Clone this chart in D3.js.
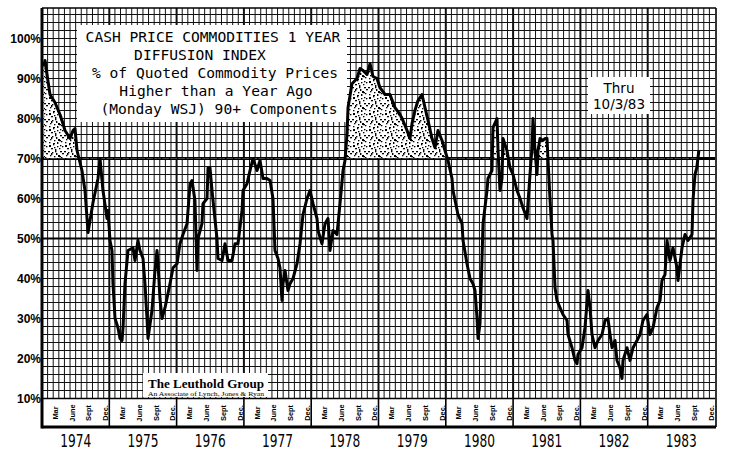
<!DOCTYPE html>
<html><head><meta charset="utf-8">
<script src="https://cdn.jsdelivr.net/npm/d3@7"></script>
<style>body{margin:0;background:#fff} svg{display:block}</style>
</head><body><svg id="c" width="730" height="458"></svg>
<script>
// ---- data (weekly diffusion index) ----
const weeks = [
1974.03,1974.045,1974.074,1974.119,1974.193,1974.267,1974.297,1974.342,1974.416,1974.461,1974.49,1974.52,1974.594,1974.639,1974.684,1974.758,1974.832,1974.862,1974.906,1974.966,1974.981,
1975.01,1975.04,1975.055,1975.085,1975.129,1975.159,1975.189,1975.204,1975.233,1975.278,1975.352,1975.382,1975.426,1975.456,1975.501,1975.53,1975.56,1975.575,1975.634,1975.679,1975.709,1975.724,1975.753,1975.783,1975.828,1975.902,1975.947,
1976.006,1976.05,1976.095,1976.155,1976.2,1976.229,1976.273,1976.303,1976.318,1976.377,1976.392,1976.452,1976.467,1976.496,1976.526,1976.6,1976.615,1976.675,1976.719,1976.764,1976.823,1976.868,1976.912,1976.972,1976.987,
1977.046,1977.091,1977.135,1977.195,1977.239,1977.284,1977.343,1977.388,1977.432,1977.462,1977.507,1977.536,1977.566,1977.581,1977.611,1977.655,1977.685,1977.73,1977.789,1977.834,1977.878,1977.938,1977.982,
1978.027,1978.086,1978.101,1978.16,1978.205,1978.25,1978.279,1978.324,1978.383,1978.428,1978.473,1978.502,1978.532,1978.547,1978.606,1978.681,1978.725,1978.77,1978.829,1978.874,1978.918,1978.978,
1979.022,1979.097,1979.171,1979.245,1979.32,1979.364,1979.424,1979.468,1979.498,1979.542,1979.587,1979.646,1979.691,1979.736,1979.795,1979.84,1979.884,1979.944,1979.988,
1980.033,1980.092,1980.107,1980.181,1980.241,1980.256,1980.315,1980.36,1980.404,1980.434,1980.464,1980.479,1980.508,1980.538,1980.553,1980.612,1980.627,1980.686,1980.701,1980.761,1980.776,1980.805,1980.835,1980.85,1980.909,1980.954,1980.999,
1981.058,1981.103,1981.147,1981.207,1981.221,1981.251,1981.281,1981.296,1981.325,1981.355,1981.37,1981.4,1981.444,1981.474,1981.504,1981.519,1981.548,1981.578,1981.593,1981.623,1981.652,1981.697,1981.741,1981.801,1981.816,1981.875,1981.92,1981.95,1981.964,
1982.024,1982.068,1982.113,1982.143,1982.172,1982.217,1982.262,1982.321,1982.366,1982.41,1982.44,1982.47,1982.514,1982.544,1982.588,1982.618,1982.633,1982.692,1982.737,1982.782,1982.841,1982.886,1982.93,1982.989,
1983.034,1983.079,1983.138,1983.183,1983.212,1983.257,1983.287,1983.331,1983.376,1983.435,1983.45,1983.51,1983.554,1983.599,1983.658,1983.673,1983.703,1983.73,1983.76
];
const index = [
93,94.5,91,86,84,81,79.5,77,75,77,77.5,72,67,62,51.5,59,65,70,62,55,57,
49.5,47,38.7,30,27.7,25,24.5,27.7,38.7,47,47.7,44.5,49.5,47,45,38.7,30,25,32,42,47,43.7,35,30,32.7,38.7,42.7,
43.7,48.7,51,53.7,63.7,64.5,59.5,42,50,53.7,58.7,60,67.7,67.7,62,50,45,44.5,48.7,44.5,44.5,48.7,48.7,57,62,
63.7,67,70,67,69.5,65,65,64.5,60,47,45,42.7,34.5,38.7,42,37,38.7,40,43.7,48.7,56,60,62,
58.7,55,52,48.7,53.7,55,47,52,51,58.7,67,69.5,76,82.7,88.7,90,92.5,92,91,93.7,90.5,90,
87.7,86,86,82.7,81,79.5,77,75,78.7,82,84.5,86,82.7,79.5,75,72.7,77,74.5,72,
69.5,65,62,56,53.7,49.5,43.7,40,38.7,37,30,25,28.7,45,53.7,62,65,67,77.7,80,72,62,65,75,72,67.7,66,
62,60,57.7,55,58.7,66,72.7,80,72,66,72,75,74.5,75,75,69.5,60,51,49.5,37.7,34.5,32.7,31,29.5,26,22.7,19.5,18.7,21,
22.7,27.7,37,32.7,26,22.7,24.5,26,29.5,30,26,22.7,24.5,19.5,17.7,15,19.5,22.7,19.5,22.7,24.5,26,29.5,31,
26,27.7,32.7,34.5,39.5,41,49.5,44.5,47.7,42.7,39.5,47.7,51,49.5,51,59.5,66,67.7,72
];
const yTicks = [10,20,30,40,50,60,70,80,90,100];
const years = [1974,1975,1976,1977,1978,1979,1980,1981,1982,1983];
const monthLabels = ["Mar","June","Sept","Dec."];
const monthIdx = [2,5,8,11];
const titleLines = ["CASH PRICE COMMODITIES 1 YEAR","DIFFUSION INDEX","% of Quoted Commodity Prices","Higher than a Year Ago","(Monday WSJ) 90+ Components"];
const thruLines = ["Thru","10/3/83"];
const logoLines = ["The Leuthold Group","An Associate of Lynch, Jones & Ryan"];
const refLevel = 70;

// ---- layout ----
const L = 42, R = 715, T = 8, BAND_B = 427;
const x = d3.scaleLinear().domain([1974, 1984]).range([L, R]);
const y = d3.scaleLinear().domain([10, 100]).range([398.5, 38.5]);
const svg = d3.select("#c");

// stipple pattern (speckle texture tile)
const speck = [[1,1],[5,0],[9,2],[3,4],[7,5],[11,4],[0,7],[4,8],[8,9],[12,7],[2,11],[6,12],[10,11],[13,13],[1,14],[5,15],[9,14],[12,1],[14,9],[6,3],[3,9],[11,12],[7,7],[14,2]];
const defs = svg.append("defs");
const pat = defs.append("pattern").attr("id","stip").attr("patternUnits","userSpaceOnUse").attr("width",16).attr("height",16);
pat.append("rect").attr("width",16).attr("height",16).attr("fill","#fff");
speck.forEach((p,i)=>pat.append("rect").attr("x",p[0]).attr("y",p[1])
  .attr("width", i%3===0?2:1.4).attr("height", i%4===0?2:1.3).attr("fill","#000"));
defs.append("clipPath").attr("id","above").append("rect")
  .attr("x",L).attr("y",T).attr("width",R-L).attr("height",y(refLevel)-T);

// grid
const g = svg.append("g");
g.selectAll(".hg").data(d3.range(10, 107, 2)).join("line")
  .attr("x1",L).attr("x2",R).attr("y1",d=>y(d)).attr("y2",d=>y(d))
  .attr("stroke","#111").attr("stroke-width",1);
g.selectAll(".vg").data(d3.range(0, 120)).join("line")
  .attr("x1",d=>x(1974+d/12)).attr("x2",d=>x(1974+d/12))
  .attr("y1",T).attr("y2",y(10))
  .attr("stroke","#111").attr("stroke-width",d=>d%12===0?2:1);
g.selectAll(".ys").data(d3.range(1975,1984)).join("line")
  .attr("x1",d=>x(d)).attr("x2",d=>x(d)).attr("y1",y(10)).attr("y2",BAND_B)
  .attr("stroke","#000").attr("stroke-width",1.6);
g.append("line").attr("x1",L).attr("x2",R).attr("y1",y(70)).attr("y2",y(70)).attr("stroke","#000").attr("stroke-width",3.2);
g.append("line").attr("x1",L).attr("x2",R).attr("y1",y(50)).attr("y2",y(50)).attr("stroke","#000").attr("stroke-width",2);
g.append("line").attr("x1",L).attr("x2",R).attr("y1",y(10)).attr("y2",y(10)).attr("stroke","#000").attr("stroke-width",1.6);

// boxes
const tb = svg.append("g");
tb.append("rect").attr("x",77).attr("y",25).attr("width",270).attr("height",97).attr("fill","#fff");
const tOff = [213,200,215,216,219];
tb.selectAll("text").data(titleLines).join("text")
  .attr("x",(d,i)=>tOff[i]).attr("y",(d,i)=>42+i*18.1)
  .attr("text-anchor","middle").attr("font-family","DejaVu Sans Mono").attr("font-size",14.6).attr("fill","#000")
  .text(d=>d);

const th = svg.append("g");
th.append("rect").attr("x",588).attr("y",77).attr("width",62).attr("height",37).attr("fill","#fff");
th.selectAll("text").data(thruLines).join("text")
  .attr("x",619).attr("y",(d,i)=>93+i*16).attr("text-anchor","middle")
  .attr("font-family","DejaVu Sans").attr("font-size",13.5).attr("fill","#000").text(d=>d);

const lg = svg.append("g");
lg.append("rect").attr("x",143).attr("y",373).attr("width",125).attr("height",24).attr("fill","#fff");
lg.append("text").attr("x",148).attr("y",388).attr("font-family","Liberation Serif").attr("font-weight","bold")
  .attr("font-size",13.5).attr("textLength",116).attr("lengthAdjust","spacingAndGlyphs").text(logoLines[0]);
lg.append("text").attr("x",148).attr("y",395.5).attr("font-family","Liberation Serif")
  .attr("font-size",5.8).attr("textLength",116).attr("lengthAdjust","spacingAndGlyphs").text(logoLines[1]);

// data
const pts = weeks.map((w,i)=>[w,index[i]]);
svg.append("path").datum(pts)
  .attr("clip-path","url(#above)")
  .attr("d", d3.area().x(d=>x(d[0])).y0(y(refLevel)).y1(d=>y(d[1])))
  .attr("fill","url(#stip)");
svg.append("path").datum(pts)
  .attr("d", d3.line().x(d=>x(d[0])).y(d=>y(d[1])))
  .attr("fill","none").attr("stroke","#000").attr("stroke-width",3).attr("stroke-linejoin","round");

// frame
svg.append("line").attr("x1",L).attr("x2",L).attr("y1",T).attr("y2",BAND_B+1.5).attr("stroke","#000").attr("stroke-width",3);
svg.append("line").attr("x1",L).attr("x2",R+1).attr("y1",T).attr("y2",T).attr("stroke","#000").attr("stroke-width",1.6);
svg.append("line").attr("x1",R+1).attr("x2",R+1).attr("y1",T).attr("y2",BAND_B).attr("stroke","#000").attr("stroke-width",1.6);
svg.append("line").attr("x1",L).attr("x2",R+1).attr("y1",BAND_B).attr("y2",BAND_B).attr("stroke","#000").attr("stroke-width",3);

// y labels
svg.selectAll(".yl").data(yTicks).join("text")
  .attr("x",41).attr("y",d=>y(d)).attr("dy","0.36em").attr("text-anchor","end")
  .attr("font-family","Liberation Sans").attr("font-weight","bold").attr("font-size",12)
  .attr("fill","#000").text(d=>d+"%");

// month labels
const ml = [];
years.forEach(yr=>monthIdx.forEach((m,j)=>ml.push({t:yr+(m+0.35)/12, s:monthLabels[j]})));
svg.selectAll(".ml").data(ml).join("text")
  .attr("transform",d=>`translate(${x(d.t)+2.5},413) rotate(-90)`)
  .attr("text-anchor","middle").attr("font-family","Liberation Sans").attr("font-weight","bold")
  .attr("font-size",7.4).attr("fill","#000").text(d=>d.s);

// year labels
svg.selectAll(".yr").data(years).join("text")
  .attr("x",d=>x(d+0.5)).attr("y",447).attr("text-anchor","middle")
  .attr("font-family","DejaVu Sans").attr("font-size",17.5)
  .attr("textLength",31).attr("lengthAdjust","spacingAndGlyphs").attr("fill","#000").text(d=>d);
</script></body></html>
